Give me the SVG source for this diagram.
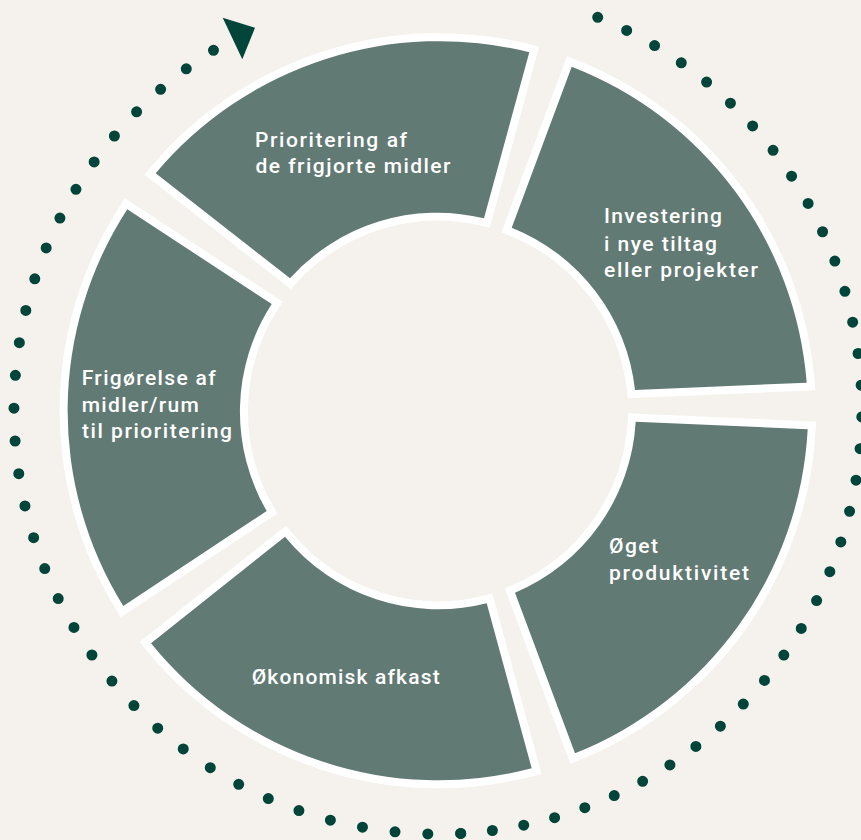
<svg xmlns="http://www.w3.org/2000/svg" width="861" height="840" viewBox="0 0 861 840">
<style>
.seg{fill:#627a74;stroke:#ffffff;stroke-width:16;stroke-linejoin:miter;stroke-miterlimit:10;paint-order:stroke}
.lbl{font-family:Roboto,"Liberation Sans",sans-serif;font-weight:500;font-size:21px;fill:#ffffff}
.dots{fill:none;stroke:#00443a;stroke-width:11;stroke-linecap:round;stroke-dasharray:0 1}
</style>
<rect x="0" y="0" width="861" height="840" fill="#f5f2ed"/>
<g id="connectors">
<path class="dots" pathLength="36.001" d="M597.7,17.3 A424,424 0 0 1 460.7,833.4"/>
<path class="dots" pathLength="34.001" d="M460.7,833.4 A424,424 0 0 1 213.5,50.3"/>
<polygon points="222.7,17.7 255,27.7 242.3,59.3" fill="#00443a"/>
</g>
<g id="node-prioritering">
<path class="seg" d="M155.7,173.3 A370,370 0 0 1 529.3,52.3 L484,218.3 A198,198 0 0 0 290,278.3 Z"/>
<text class="lbl"><tspan x="255" y="147" textLength="152" lengthAdjust="spacing">Prioritering af</tspan><tspan x="255.5" y="173.3" textLength="195" lengthAdjust="spacing">de frigjorte midler</tspan></text>
</g>
<g id="node-investering">
<path class="seg" d="M571.7,66.7 A370,370 0 0 1 806.7,382.7 L635,390 A198,198 0 0 0 511.7,227.7 Z"/>
<text class="lbl"><tspan x="604" y="223.3" textLength="118" lengthAdjust="spacing">Investering</tspan><tspan x="604" y="250.7" textLength="113" lengthAdjust="spacing">i nye tiltag</tspan><tspan x="604" y="277.3" textLength="154" lengthAdjust="spacing">eller projekter</tspan></text>
</g>
<g id="node-oget">
<path class="seg" d="M807.7,429.3 A370,370 0 0 1 575,753.3 L515,592.7 A198,198 0 0 0 635.7,421.7 Z"/>
<text class="lbl"><tspan x="609" y="552.7" textLength="49" lengthAdjust="spacing">Øget</tspan><tspan x="609" y="580" textLength="140" lengthAdjust="spacing">produktivitet</tspan></text>
</g>
<g id="node-okonomisk">
<path class="seg" d="M531.7,768.3 A370,370 0 0 1 151,643.3 L285,536.7 A198,198 0 0 0 486.7,603.3 Z"/>
<text class="lbl"><tspan x="251.7" y="684.3" textLength="188" lengthAdjust="spacing">Økonomisk afkast</tspan></text>
</g>
<g id="node-frigorelse">
<path class="seg" d="M123.3,606 A370,370 0 0 1 127.3,209.3 L271.7,304 A198,198 0 0 0 266.7,511 Z"/>
<text class="lbl"><tspan x="81.7" y="385" textLength="134" lengthAdjust="spacing">Frigørelse af</tspan><tspan x="81.7" y="411.7" textLength="117" lengthAdjust="spacing">midler/rum</tspan><tspan x="82" y="438.3" textLength="150" lengthAdjust="spacing">til prioritering</tspan></text>
</g>
</svg>
